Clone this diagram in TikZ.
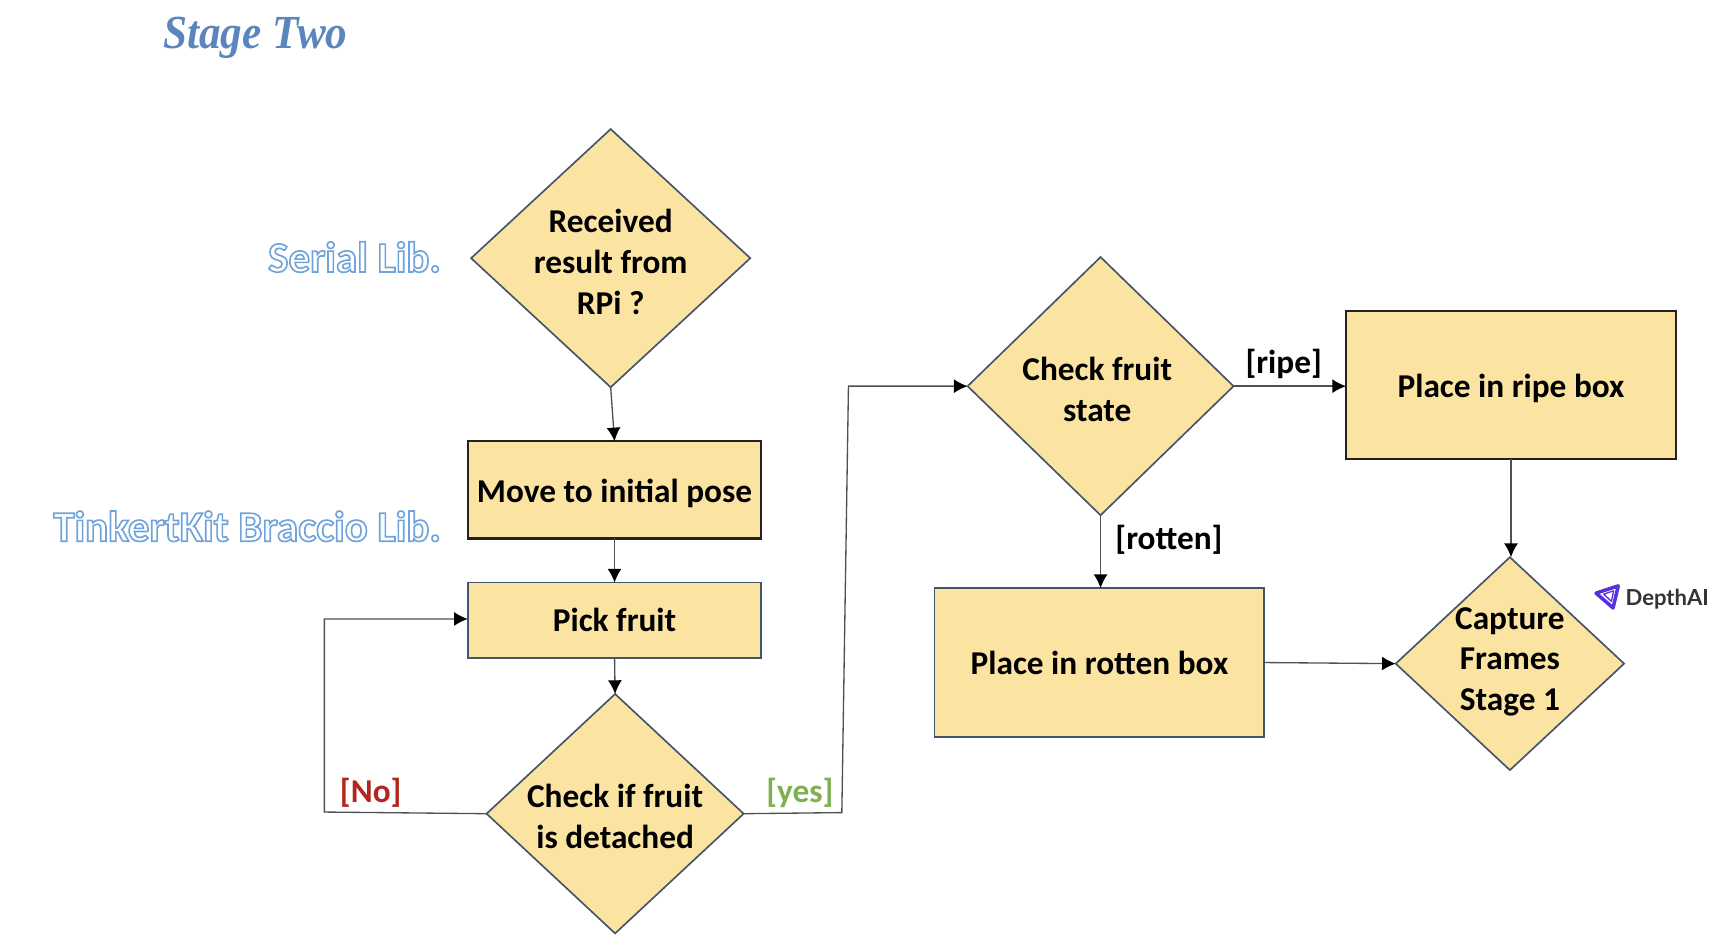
\documentclass[tikz,border=0pt]{standalone}
\usepackage{fontspec}
\setmainfont{Carlito}
\newfontfamily\titlefont[FakeStretch=0.91]{Liberation Serif}
\newfontfamily\logofont{Lato}
\usetikzlibrary{shapes.geometric,arrows.meta}
\definecolor{boxfill}{HTML}{FBE3A1}
\definecolor{boxline}{HTML}{44546A}
\definecolor{boxdark}{HTML}{222222}
\definecolor{arrowline}{HTML}{505050}
\definecolor{titleblue}{HTML}{5B86BD}
\definecolor{nored}{HTML}{B3261E}
\definecolor{yesgreen}{HTML}{7FB050}
\definecolor{logopurple}{HTML}{5A2FE0}
\newcommand{\dtext}[2]{\smash{\raisebox{#1}{\makebox[0pt][c]{\begin{tabular}{@{}c@{}}#2\end{tabular}}}}}
\newcommand{\outl}[1]{\special{pdf:code q 1 Tr 0.75 w 0.44 0.64 0.86 RG}#1\special{pdf:code Q}}
\tikzset{
  x=0.5pt,y=-0.5pt,
  base/.style={font=\fontsize{15.1}{18.5}\selectfont\bfseries,text=black},
  rectbox/.style={base,draw=boxline,fill=boxfill,line width=0.85pt,rectangle,inner sep=0pt,outer sep=0pt},
  decision/.style={base,draw=boxline,fill=boxfill,line width=0.75pt,diamond,inner sep=0pt,outer sep=0pt,aspect=1},
  flow/.style={draw=arrowline,line width=0.6pt,-{Latex[length=6.2pt,width=6.3pt,black]}},
  guard/.style={base,inner sep=0pt},
  lib/.style={font=\fontsize{19.5}{22}\selectfont\bfseries,inner sep=0pt,anchor=east},
}
\begin{document}
\begin{tikzpicture}
\useasboundingbox (0,0) rectangle (1568,861);
\node[font=\fontsize{21.5}{24}\titlefont\bfseries\itshape,text=titleblue,inner sep=0pt] (title) at (231.5,34.5) {Stage Two};
\node[lib] (seriallib) at (400,233) {\outl{Serial Lib.}};
\node[lib] (braccio) at (400,477) {\outl{TinkertKit Braccio Lib.}};

\node[decision,minimum width=126.5pt,minimum height=117pt] (d1) at (553.5,234) {\dtext{-6.75pt}{Received\\result from\\RPi ?}};
\node[rectbox,draw=boxdark,line width=1pt,minimum width=133pt,minimum height=44pt] (r1) at (557,444) {\rule{0pt}{14pt}Move to initial pose};
\node[rectbox,minimum width=133pt,minimum height=34pt] (r2) at (557,562) {Pick fruit};
\node[decision,minimum width=116.5pt,minimum height=108.5pt] (d2) at (557.5,737.5) {\dtext{-6.5pt}{Check if fruit\\is detached}};
\node[decision,minimum width=120.5pt,minimum height=117pt] (d3) at (997.5,350) {\makebox[0pt][c]{\hspace{-3pt}\dtext{-6.75pt}{Check fruit\\state}}};
\node[rectbox,draw=boxdark,line width=1pt,minimum width=149.5pt,minimum height=67pt] (r3) at (1369.5,349) {\rule{0pt}{14pt}Place in ripe box};
\node[rectbox,minimum width=149.5pt,minimum height=67.5pt] (r4) at (996.5,600.5) {Place in rotten box};
\node[decision,minimum width=103.5pt,minimum height=96.5pt] (d4) at (1368.5,601.5) {\dtext{-2.75pt}{Capture\\Frames\\Stage 1}};

\coordinate (nob) at (294,736);
\coordinate (not) at (294,561);
\coordinate (yesb) at (763,736.5);
\coordinate (yest) at (769,350);

\draw[flow] (d1.south) -- (r1.north);
\draw[flow] (r1.south) -- (r2.north);
\draw[flow] (r2.south) -- (d2.north);
\draw[flow] (d2.west) -- (nob) -- (not) -- (not -| r2.west);
\draw[flow] (d2.east) -- (yesb) -- (yest) -- (d3.west);
\draw[flow] (d3.east) -- (d3.east -| r3.west);
\draw[flow] (d3.south) -- (d3.south |- r4.north);
\draw[flow] (r3.south) -- (r3.south |- d4.north);
\draw[flow] (r4.east) -- (d4.west);

\node[guard] (lripe) at (1163.5,329.5) {[ripe]};
\node[guard] (lrotten) at (1059.5,489) {[rotten]};
\node[guard,text=nored] (lno) at (336,719) {[No]};
\node[guard,text=yesgreen] (lyes) at (725,719) {[yes]};

\coordinate (la) at (1446.6,537.6);
\coordinate (lb) at (1466.7,531);
\coordinate (lc) at (1462,551);
\coordinate (ia) at (1453.5,538.5);
\coordinate (ib) at (1462.5,535.5);
\coordinate (ic) at (1460.5,545);
\draw[logopurple,line width=1.6pt,line join=round] (la) -- (lb) -- (lc) -- cycle;
\draw[logopurple,line width=0.6pt,line join=round] (ia) -- (ib) -- (ic) -- cycle;
\node[font=\fontsize{10}{12}\logofont\bfseries,text=black!80,inner sep=0pt,anchor=west] (depth) at (1473,543) {DepthAI};
\end{tikzpicture}
\end{document}
